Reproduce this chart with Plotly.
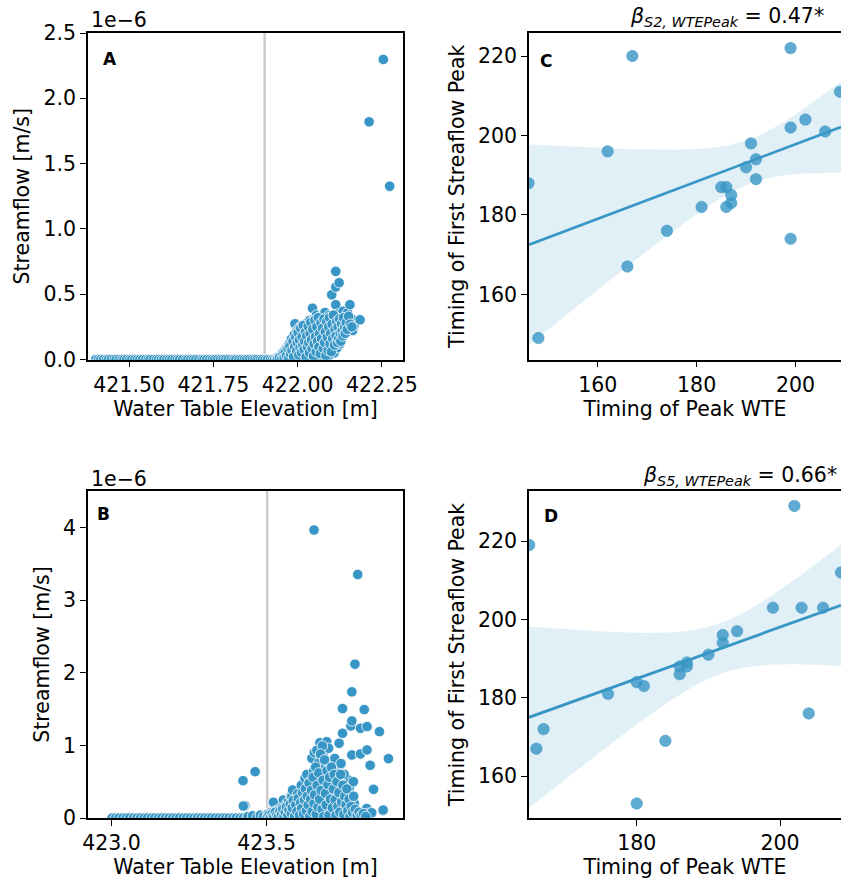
import numpy as np
import plotly.graph_objects as go

# ---------------- DATA ----------------
# Panel A: water table elevation [m] vs streamflow (units of 1e-6 m/s)
A_zero_x = [421.401, 421.409, 421.416, 421.424, 421.433, 421.439, 421.447, 421.456, 421.462,
            421.471, 421.479, 421.485, 421.493, 421.502, 421.508, 421.517, 421.525, 421.532,
            421.540, 421.549, 421.557, 421.563, 421.572, 421.581, 421.588, 421.596, 421.603,
            421.612, 421.620, 421.627, 421.636, 421.644, 421.650, 421.659, 421.668, 421.674,
            421.683, 421.691, 421.698, 421.707, 421.716, 421.722, 421.730, 421.739, 421.747,
            421.754, 421.762, 421.771, 421.779, 421.786, 421.794, 421.803, 421.811, 421.817,
            421.826, 421.834, 421.842, 421.849, 421.857, 421.866, 421.873, 421.880, 421.889,
            421.896, 421.904, 421.911, 421.919, 421.926]
A_cloud_x = [421.932, 421.938, 421.943, 421.948, 421.951, 421.955, 421.958, 421.962, 421.965,
             421.968, 421.970, 421.973, 421.975, 421.978, 421.980, 421.982, 421.985, 421.987,
             421.990, 421.992, 421.993, 421.996, 421.998, 422.000, 422.002, 422.004, 422.006,
             422.008, 422.010, 422.012, 422.014, 422.016, 422.018, 422.020, 422.022, 422.024,
             422.026, 422.028, 422.030, 422.032, 422.034, 422.036, 422.038, 422.040, 422.042,
             422.044, 422.046, 422.048, 422.050, 422.052, 422.054, 422.056, 422.058, 422.060,
             422.062, 422.064, 422.066, 422.068, 422.070, 422.072, 422.073, 422.075, 422.077,
             422.079, 422.081, 422.083, 422.085, 422.087, 422.089, 422.091, 422.093, 422.095,
             422.097, 422.099, 422.101, 422.101, 422.103, 422.105, 422.107, 422.108, 422.110,
             422.112, 422.113, 422.113, 422.113, 422.115, 422.117, 422.119, 422.121, 422.123,
             422.125, 422.127, 422.129, 422.131, 422.133, 422.135, 422.137, 422.140, 422.142,
             422.145, 422.148, 422.150, 422.153, 422.155, 422.158, 422.160, 422.163, 422.167,
             422.185, 421.995, 422.015, 422.035, 422.055, 422.078, 422.092,
             421.940, 421.946, 421.953, 421.957, 421.960, 421.963, 421.967, 421.971, 421.974,
             421.977, 421.979, 421.983, 421.986, 421.988, 421.991, 421.994, 421.997, 421.999,
             422.001, 422.003, 422.005, 422.007, 422.009, 422.011, 422.013, 422.015, 422.017,
             422.019, 422.021, 422.023, 422.025, 422.027, 422.029, 422.031, 422.033, 422.035,
             422.037, 422.039, 422.041, 422.043, 422.045, 422.047, 422.049, 422.051, 422.053,
             422.055, 422.057, 422.059, 422.061, 422.063, 422.065, 422.067, 422.069, 422.071,
             422.074, 422.076, 422.078, 422.080, 422.082, 422.084, 422.086, 422.088, 422.090,
             422.092, 422.094, 422.096, 422.098, 422.100, 422.102, 422.104, 422.106, 422.109,
             422.111, 422.114, 422.116, 422.118, 422.120, 422.122, 422.124, 422.126, 422.128,
             422.130, 422.132, 422.134, 422.136, 422.139, 422.141, 422.144, 422.147, 422.151,
             422.156, 422.161,
             422.212, 422.254, 422.273]
A_cloud_q = [0.005, 0.010, 0.020, 0.012, 0.035, 0.050, 0.025, 0.070, 0.040,
             0.090, 0.060, 0.110, 0.030, 0.130, 0.080, 0.160, 0.050, 0.120,
             0.190, 0.274, 0.100, 0.150, 0.220, 0.060, 0.180, 0.240, 0.120,
             0.030, 0.200, 0.260, 0.090, 0.150, 0.230, 0.040, 0.190, 0.235,
             0.120, 0.280, 0.070, 0.210, 0.160, 0.300, 0.100, 0.250, 0.050,
             0.393, 0.180, 0.310, 0.130, 0.270, 0.220, 0.340, 0.080, 0.170,
             0.290, 0.030, 0.240, 0.330, 0.110, 0.200, 0.324, 0.150, 0.270,
             0.060, 0.360, 0.248, 0.190, 0.120, 0.300, 0.220, 0.337, 0.040,
             0.160, 0.280, 0.496, 0.100, 0.107, 0.210, 0.330, 0.050, 0.260,
             0.150, 0.675, 0.555, 0.420, 0.300, 0.090, 0.200, 0.350, 0.588,
             0.120, 0.250, 0.320, 0.170, 0.280, 0.370, 0.210, 0.300, 0.240,
             0.330, 0.358, 0.270, 0.290, 0.420, 0.230, 0.310, 0.222, 0.260,
             0.304, 0.015, 0.008, 0.020, 0.012, 0.025, 0.030,
             0.004, 0.015, 0.008, 0.040, 0.018, 0.055, 0.028, 0.085, 0.012,
             0.100, 0.045, 0.070, 0.140, 0.022, 0.095, 0.170, 0.065, 0.130,
             0.205, 0.035, 0.150, 0.090, 0.240, 0.055, 0.175, 0.110, 0.260,
             0.075, 0.140, 0.210, 0.020, 0.180, 0.095, 0.255, 0.130, 0.050,
             0.200, 0.285, 0.150, 0.085, 0.230, 0.025, 0.120, 0.300, 0.175,
             0.060, 0.250, 0.140, 0.320, 0.095, 0.200, 0.045, 0.280, 0.160,
             0.240, 0.085, 0.310, 0.130, 0.210, 0.030, 0.290, 0.170, 0.070,
             0.250, 0.320, 0.120, 0.200, 0.060, 0.270, 0.160, 0.340, 0.110,
             0.230, 0.180, 0.290, 0.130, 0.250, 0.160, 0.310, 0.200, 0.140,
             0.270, 0.220, 0.180, 0.320, 0.250, 0.200, 0.280, 0.230, 0.330,
             0.270, 0.250,
             1.820, 2.298, 1.327]
A_threshold = 421.902

# Panel B
B_zero_x = [423.002, 423.013, 423.024, 423.036, 423.047, 423.058, 423.071, 423.082, 423.093,
            423.105, 423.116, 423.128, 423.139, 423.151, 423.162, 423.174, 423.185, 423.197,
            423.208, 423.219, 423.231, 423.242, 423.254, 423.266, 423.277, 423.288, 423.300,
            423.311, 423.322, 423.334, 423.346, 423.357, 423.368, 423.379, 423.391, 423.402,
            423.414, 423.425, 423.437, 423.448, 423.459, 423.471, 423.482, 423.494, 423.503]
B_cloud_x = [423.430, 423.425, 423.424, 423.463, 423.440, 423.455, 423.470, 423.480, 423.490,
             423.505, 423.510, 423.515, 423.522, 423.525, 423.530, 423.535, 423.540, 423.545,
             423.550, 423.554, 423.558, 423.562, 423.566, 423.570, 423.574, 423.578, 423.581,
             423.584, 423.588, 423.592, 423.596, 423.600, 423.604, 423.608, 423.612, 423.615,
             423.618, 423.621, 423.624, 423.627, 423.630, 423.633, 423.636, 423.640, 423.643,
             423.646, 423.649, 423.652, 423.654, 423.656, 423.659, 423.662, 423.665, 423.667,
             423.670, 423.672, 423.675, 423.678, 423.681, 423.683, 423.686, 423.689, 423.691,
             423.694, 423.694, 423.697, 423.700, 423.702, 423.705, 423.705, 423.708, 423.711,
             423.714, 423.717, 423.720, 423.723, 423.726, 423.729, 423.732, 423.734, 423.734,
             423.737, 423.740, 423.743, 423.745, 423.745, 423.748, 423.751, 423.754, 423.757,
             423.760, 423.764, 423.764, 423.767, 423.770, 423.772, 423.775, 423.775, 423.775,
             423.778, 423.780, 423.783, 423.785, 423.790, 423.794, 423.803, 423.803, 423.810,
             423.815, 423.823, 423.824, 423.824, 423.828, 423.834, 423.839, 423.845, 423.864,
             423.875, 423.876, 423.893, 423.653, 423.662, 423.680, 423.690, 423.715, 423.720,
             423.740, 423.730, 423.750, 423.600, 423.640, 423.700, 423.760,
             423.502, 423.508, 423.513, 423.518, 423.523, 423.528, 423.533, 423.538, 423.543,
             423.548, 423.552, 423.556, 423.560, 423.564, 423.568, 423.572, 423.576, 423.580,
             423.583, 423.586, 423.590, 423.594, 423.598, 423.602, 423.606, 423.610, 423.613,
             423.616, 423.619, 423.622, 423.625, 423.628, 423.631, 423.634, 423.637, 423.639,
             423.642, 423.645, 423.647, 423.650, 423.653, 423.655, 423.658, 423.660, 423.663,
             423.666, 423.668, 423.671, 423.674, 423.676, 423.679, 423.682, 423.684, 423.687,
             423.690, 423.692, 423.695, 423.698, 423.701, 423.703, 423.706, 423.709, 423.712,
             423.715, 423.718, 423.721, 423.724, 423.727, 423.730, 423.733, 423.736, 423.739,
             423.742, 423.746, 423.749, 423.752, 423.756, 423.759, 423.762, 423.766, 423.769,
             423.773, 423.777, 423.781, 423.786, 423.792, 423.798, 423.805, 423.812, 423.820]
B_cloud_q = [0.170, 0.165, 0.514, 0.638, 0.020, 0.030, 0.010, 0.040, 0.020,
             0.060, 0.030, 0.080, 0.216, 0.050, 0.100, 0.020, 0.120, 0.070,
             0.150, 0.248, 0.040, 0.180, 0.100, 0.220, 0.060, 0.300, 0.293,
             0.386, 0.140, 0.250, 0.020, 0.330, 0.190, 0.080, 0.450, 0.280,
             0.340, 0.120, 0.547, 0.220, 0.600, 0.040, 0.380, 0.500, 0.160,
             0.822, 0.280, 0.650, 0.900, 0.100, 0.440, 0.569, 0.200, 0.753,
             0.320, 1.037, 0.050, 0.600, 0.420, 0.868, 0.150, 0.700, 0.260,
             1.051, 0.523, 0.350, 0.960, 0.080, 0.776, 0.409, 0.200, 0.620,
             0.300, 0.480, 0.120, 0.580, 0.380, 0.220, 0.450, 0.652, 1.028,
             0.510, 0.030, 0.280, 1.506, 1.166, 0.400, 0.150, 0.520, 0.330,
             0.060, 0.523, 0.248, 0.420, 0.100, 1.267, 1.736, 1.336, 0.868,
             0.180, 0.500, 0.200, 2.117, 0.050, 3.351, 1.235, 0.882, 0.020,
             1.492, 0.130, 1.258, 0.937, 0.065, 0.725, 0.073, 0.395, 1.189,
             0.101, 0.110, 0.817, 3.963, 0.930, 0.990, 0.800, 0.720, 0.820,
             0.750, 0.550, 0.600, 0.030, 0.020, 0.010, 0.020,
             0.015, 0.045, 0.010, 0.060, 0.025, 0.080, 0.040, 0.015, 0.095,
             0.050, 0.120, 0.020, 0.080, 0.150, 0.035, 0.110, 0.190, 0.060,
             0.140, 0.240, 0.020, 0.180, 0.090, 0.270, 0.040, 0.210, 0.130,
             0.350, 0.060, 0.250, 0.400, 0.100, 0.300, 0.180, 0.480, 0.020,
             0.260, 0.380, 0.090, 0.560, 0.200, 0.320, 0.700, 0.050, 0.450,
             0.150, 0.620, 0.260, 0.880, 0.380, 0.120, 0.520, 0.020, 0.800,
             0.340, 0.180, 0.650, 0.460, 0.040, 0.560, 0.260, 0.700, 0.140,
             0.400, 0.600, 0.250, 0.040, 0.500, 0.160, 0.350, 0.080, 0.600,
             0.220, 0.450, 0.050, 0.300, 0.180, 0.400, 0.100, 0.260, 0.020,
             0.160, 0.080, 0.300, 0.120, 0.040, 0.080, 0.030, 0.060, 0.020]
B_threshold = 423.502

# Panel C: timing of peak WTE vs timing of first streamflow peak (S2)
C_wte = [167, 199, 209, 146, 162, 202, 199, 206, 191, 190, 192, 192, 185, 186, 187, 187,
         186, 181, 174, 199, 166, 148]
C_flow = [220, 222, 211, 188, 196, 204, 202, 201, 198, 192, 194, 189, 187, 187, 185, 183,
          182, 182, 176, 174, 167, 149]
C_label = "<i>β</i><sub><i>S2, WTEPeak</i></sub> = 0.47*"

# Panel D (S5)
D_wte = [165, 202, 208.5, 199, 203, 206, 194, 192, 192, 190, 187, 186, 187, 186, 180, 181,
         176, 167, 166, 184, 204, 180]
D_flow = [219, 229, 212, 203, 203, 203, 197, 196, 194, 191, 189, 188, 188, 186, 184, 183,
          181, 172, 167, 169, 176, 153]
D_label = "<i>β</i><sub><i>S5, WTEPeak</i></sub> = 0.66*"

# ---------------- STYLE / LAYOUT ----------------
W, H = 841, 883
FONT = "DejaVu Sans"
FS = 20.5
BLUE = "#3896c6"
Z95 = 1.96


def px(x):
    return x / W


def py(y):
    return 1 - y / H


fig = go.Figure()

axis_common = dict(showgrid=False, zeroline=False, showline=True, linecolor="black",
                   linewidth=1.5, ticks="outside", ticklen=6, tickwidth=1.2,
                   tickcolor="black", automargin=False,
                   tickfont=dict(family=FONT, size=FS, color="black"),
                   title_font=dict(family=FONT, size=FS, color="black"))

dom_left = [px(88), px(403)]
dom_right = [px(529), 1.0]
dom_top = [py(359.5), py(33)]
dom_bot = [py(818), py(491)]


def scatter_panel(xa, ya, zero_x, cx, cq):
    fig.add_trace(go.Scatter(
        x=list(zero_x) + list(cx), y=[0.0] * len(zero_x) + list(cq),
        mode="markers", xaxis=xa, yaxis=ya, showlegend=False,
        marker=dict(size=10.5, color=BLUE, line=dict(color="white", width=0.8))))


def fit_line(xs, ys, grid):
    b, a = np.polyfit(xs, ys, 1)
    return a + b * grid


def reg_panel(xa, ya, xs, ys, xr):
    xs = np.asarray(xs, float)
    ys = np.asarray(ys, float)
    n = len(xs)
    grid = np.linspace(xr[0], xr[1], 100)
    fit = fit_line(xs, ys, grid)
    # jackknife (leave-one-out) standard error of the fitted line
    loo = np.array([fit_line(np.delete(xs, i), np.delete(ys, i), grid) for i in range(n)])
    se = np.sqrt((n - 1) / n * np.sum((loo - loo.mean(axis=0)) ** 2, axis=0))
    half = Z95 * se
    fig.add_trace(go.Scatter(
        x=np.concatenate([grid, grid[::-1]]),
        y=np.concatenate([fit + half, (fit - half)[::-1]]),
        fill="toself", fillcolor="rgba(56,150,198,0.15)", line=dict(width=0),
        mode="lines", xaxis=xa, yaxis=ya, showlegend=False, hoverinfo="skip"))
    fig.add_trace(go.Scatter(
        x=xs, y=ys, mode="markers", xaxis=xa, yaxis=ya, showlegend=False,
        marker=dict(size=11.5, color="rgba(56,150,198,0.8)",
                    line=dict(color="rgba(56,150,198,0.5)", width=1))))
    fig.add_trace(go.Scatter(
        x=grid, y=fit, mode="lines", xaxis=xa, yaxis=ya, showlegend=False,
        line=dict(color=BLUE, width=2.8)))


scatter_panel("x", "y", A_zero_x, A_cloud_x, A_cloud_q)
scatter_panel("x3", "y3", B_zero_x, B_cloud_x, B_cloud_q)

C_xr = [146.1, 209.2]
D_xr = [164.97, 208.5]
reg_panel("x2", "y2", C_wte, C_flow, C_xr)
reg_panel("x4", "y4", D_wte, D_flow, D_xr)

fig.update_layout(
    width=W, height=H, margin=dict(l=0, r=0, t=0, b=0, autoexpand=False),
    paper_bgcolor="white", plot_bgcolor="white",
    font=dict(family=FONT, size=FS, color="black"),
    xaxis=dict(**axis_common, domain=dom_left, anchor="y", mirror=True,
               range=[421.378, 422.3125], tickvals=[421.50, 421.75, 422.00, 422.25],
               tickformat=".2f", title=dict(text="Water Table Elevation [m]", standoff=4)),
    yaxis=dict(**axis_common, domain=dom_top, anchor="x", mirror=True,
               range=[0, 2.5], tickvals=[0, 0.5, 1.0, 1.5, 2.0, 2.5], tickformat=".1f",
               title=dict(text="Streamflow [m/s]", standoff=8)),
    xaxis2=dict(**axis_common, domain=dom_right, anchor="y2", mirror=True,
                range=C_xr, tickvals=[160, 180, 200],
                title=dict(text="Timing of Peak WTE", standoff=4)),
    yaxis2=dict(**axis_common, domain=dom_top, anchor="x2", mirror=False,
                range=[143.6, 225.8], tickvals=[160, 180, 200, 220],
                title=dict(text="Timing of First Streaflow Peak", standoff=8)),
    xaxis3=dict(**axis_common, domain=dom_left, anchor="y3", mirror=True,
                range=[422.924, 423.94], tickvals=[423.0, 423.5], tickformat=".1f",
                title=dict(text="Water Table Elevation [m]", standoff=4)),
    yaxis3=dict(**axis_common, domain=dom_bot, anchor="x3", mirror=True,
                range=[0, 4.5], tickvals=[0, 1, 2, 3, 4],
                title=dict(text="Streamflow [m/s]", standoff=8)),
    xaxis4=dict(**axis_common, domain=dom_right, anchor="y4", mirror=True,
                range=D_xr, tickvals=[180, 200],
                title=dict(text="Timing of Peak WTE", standoff=4)),
    yaxis4=dict(**axis_common, domain=dom_bot, anchor="x4", mirror=False,
                range=[149.3, 232.8], tickvals=[160, 180, 200, 220],
                title=dict(text="Timing of First Streaflow Peak", standoff=8)),
)

# threshold lines
for xa, thr in (("x", A_threshold), ("x3", B_threshold)):
    fig.add_shape(type="line", xref=xa, yref=("y domain" if xa == "x" else "y3 domain"),
                  x0=thr, x1=thr, y0=0, y1=1, layer="below",
                  line=dict(color="#cccccc", width=2.5))

annos = [
    dict(text="1e\u22126", x=px(89), y=py(20), xanchor="left", yanchor="middle", size=FS, bold=False),
    dict(text="1e\u22126", x=px(89), y=py(479), xanchor="left", yanchor="middle", size=FS, bold=False),
    dict(text="A", x=px(110), y=py(59), xanchor="center", yanchor="middle", size=17, bold=True),
    dict(text="B", x=px(103), y=py(514), xanchor="center", yanchor="middle", size=17, bold=True),
    dict(text="C", x=px(546), y=py(61), xanchor="center", yanchor="middle", size=17, bold=True),
    dict(text="D", x=px(551), y=py(516), xanchor="center", yanchor="middle", size=17, bold=True),
    dict(text=C_label, x=px(826), y=py(17), xanchor="right", yanchor="middle", size=FS, bold=False),
    dict(text=D_label, x=px(839), y=py(476), xanchor="right", yanchor="middle", size=FS, bold=False),
]
for a in annos:
    txt = f"<b>{a['text']}</b>" if a["bold"] else a["text"]
    fig.add_annotation(text=txt, x=a["x"], y=a["y"], xref="paper", yref="paper",
                       xanchor=a["xanchor"], yanchor=a["yanchor"], showarrow=False,
                       font=dict(family=FONT, size=a["size"], color="black"))

fig.write_html("out.html")
